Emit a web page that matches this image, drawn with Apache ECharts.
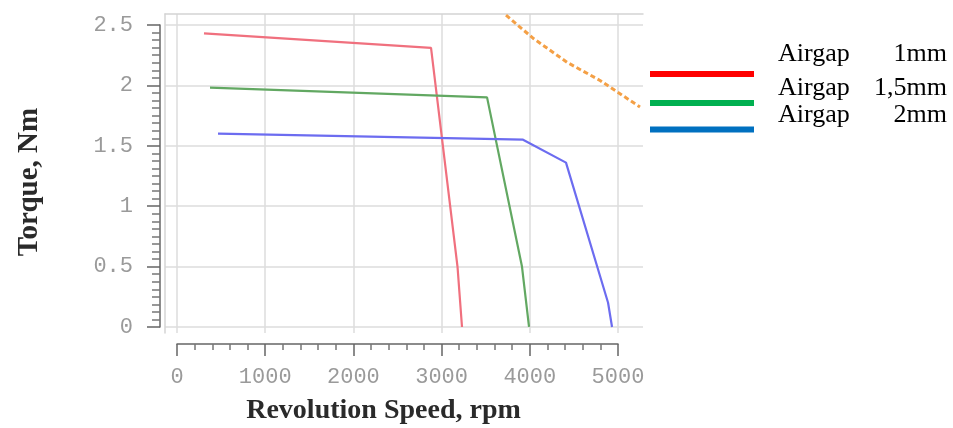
<!DOCTYPE html>
<html>
<head>
<meta charset="utf-8">
<script src="https://cdn.jsdelivr.net/npm/echarts@6/dist/echarts.min.js"></script>
<style>
  html, body { margin: 0; padding: 0; background: #fff; }
  #chart { width: 953px; height: 428px; }
</style>
</head>
<body>
<div id="chart"></div>
<script>
// tick values of both axes
const speedTicks = [0, 1000, 2000, 3000, 4000, 5000]
const torqueTicks = [0, 0.5, 1, 1.5, 2, 2.5]

// torque / speed curves
const gapNames = ['Airgap 1mm', 'Airgap 1,5mm', 'Airgap 2mm']
const gap1Speed = [306, 2880, 3180, 3231]
const gap1Torque = [2.43, 2.31, 0.5, 0]
const gap15Speed = [374, 3515, 3911, 3991]
const gap15Torque = [1.98, 1.90, 0.5, 0]
const gap2Speed = [465, 3923, 4410, 4887, 4932]
const gap2Torque = [1.60, 1.55, 1.36, 0.2, 0]
const limitSpeed = [3730, 4036, 4422, 4796, 5249]
const limitTorque = [2.58, 2.39, 2.19, 2.04, 1.82]

const zip = (xs, ys) => xs.map((x, i) => [x, ys[i]])

const tickFont = 'Liberation Mono, Courier New, monospace'
const titleFont = 'Liberation Serif, Times New Roman, serif'
const gridLine = { show: true, lineStyle: { color: '#dcdcdc', width: 1.5 } }

const chart = echarts.init(document.getElementById('chart'))

function curve (name, xs, ys, color, extra) {
  return Object.assign({
    name: name,
    type: 'line',
    xAxisIndex: 0,
    yAxisIndex: 0,
    symbol: 'none',
    silent: true,
    lineStyle: { color: color, width: 2.2 },
    itemStyle: { color: color },
    data: zip(xs, ys)
  }, extra || {})
}

// one legend per row, text raised above its coloured bar
const legendColors = ['#ff0000', '#00b050', '#0070c0']
const legendTops = [36, 70, 97]
const legendRaise = [40, 30, 29]
const legends = gapNames.map((name, i) => ({
  left: 645,
  top: legendTops[i],
  orient: 'vertical',
  icon: 'rect',
  itemWidth: 104,
  itemHeight: 6,
  selectedMode: false,
  data: [{ name: name, itemStyle: { color: legendColors[i] } }],
  formatter: n => {
    const parts = n.split(' ')
    return '{a|' + parts[0] + '}{b|' + parts[1] + '}'
  },
  textStyle: {
    padding: [0, 0, legendRaise[i], 19],
    fontFamily: titleFont,
    fontSize: 26,
    color: '#000',
    rich: {
      a: { width: 80, fontFamily: titleFont, fontSize: 26, color: '#000' },
      b: { width: 89, align: 'right', fontFamily: titleFont, fontSize: 26, color: '#000' }
    }
  }
}))

chart.setOption({
  animation: false,
  backgroundColor: '#fff',
  legend: legends,
  grid: [
    // plot frame
    { left: 165, top: 14, width: 478, height: 319, outerBoundsMode: 'none' },
    // visible axes, exactly 0..5000 and 0..2.5
    { left: 177, top: 25, width: 441, height: 302, outerBoundsMode: 'none' }
  ],
  xAxis: [
    {
      gridIndex: 0,
      type: 'value',
      position: 'top',
      min: -136,
      max: 5283,
      axisLine: { show: true, onZero: false, lineStyle: { color: '#d4d4d4', width: 1.5 } },
      axisTick: { show: false, customValues: speedTicks },
      axisLabel: { show: false },
      splitLine: gridLine
    },
    {
      gridIndex: 1,
      type: 'value',
      position: 'bottom',
      min: 0,
      max: 5000,
      interval: 1000,
      offset: 17,
      axisLine: { show: true, onZero: false, lineStyle: { color: '#666', width: 1.5 } },
      axisTick: { show: true, length: 12, lineStyle: { color: '#666', width: 1.5 } },
      minorTick: { show: true, splitNumber: 5, length: 6, lineStyle: { color: '#777', width: 1.5 } },
      axisLabel: {
        margin: 22,
        fontFamily: tickFont,
        fontSize: 22,
        color: '#9a9a9a',
        formatter: v => String(v)
      },
      splitLine: { show: false },
      name: 'Revolution Speed, rpm',
      nameLocation: 'middle',
      nameGap: 53,
      nameTextStyle: {
        fontFamily: titleFont,
        fontWeight: 'bold',
        fontSize: 28,
        color: '#2a2a2a',
        padding: [0, 28, 0, 0]
      }
    }
  ],
  yAxis: [
    {
      gridIndex: 0,
      type: 'value',
      min: -0.05,
      max: 2.59,
      axisLine: { show: true, onZero: false, lineStyle: { color: '#d4d4d4', width: 1.5 } },
      axisTick: { show: false, customValues: torqueTicks },
      axisLabel: { show: false },
      splitLine: gridLine
    },
    {
      gridIndex: 1,
      type: 'value',
      min: 0,
      max: 2.5,
      interval: 0.5,
      offset: 17,
      axisLine: { show: true, onZero: false, lineStyle: { color: '#666', width: 1.5 } },
      axisTick: { show: true, length: 13, lineStyle: { color: '#666', width: 1.5 } },
      minorTick: { show: true, splitNumber: 8, length: 8, lineStyle: { color: '#777', width: 1.5 } },
      axisLabel: {
        margin: 27,
        padding: [5, 0, 0, 0],
        fontFamily: tickFont,
        fontSize: 22,
        color: '#9a9a9a',
        formatter: v => String(v)
      },
      splitLine: { show: false },
      name: 'Torque, Nm',
      nameLocation: 'middle',
      nameGap: 116,
      nameTextStyle: {
        fontFamily: titleFont,
        fontWeight: 'bold',
        fontSize: 29,
        color: '#2a2a2a',
        padding: [0, 12, 0, 0]
      }
    }
  ],
  series: [
    curve(gapNames[0], gap1Speed, gap1Torque, '#f0707e'),
    curve(gapNames[1], gap15Speed, gap15Torque, '#62a862'),
    curve(gapNames[2], gap2Speed, gap2Torque, '#6c6cf0'),
    curve('Limit', limitSpeed, limitTorque, '#f4a046', {
      lineStyle: { color: '#f4a046', width: 3, type: [5, 3] }
    })
  ]
})
</script>
</body>
</html>
